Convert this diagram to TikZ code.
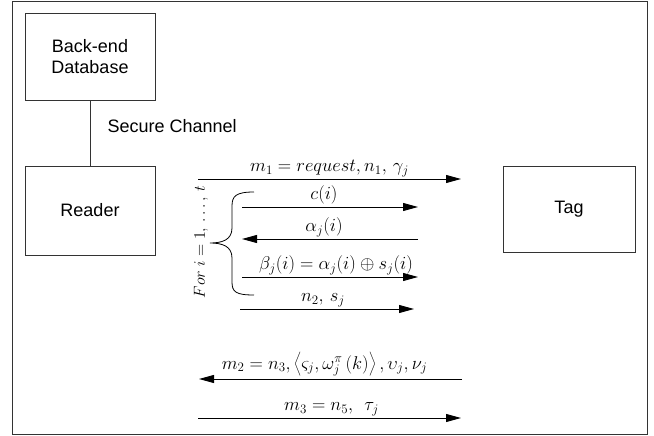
\RequirePackage{fix-cm}
\documentclass[tikz,border=0pt]{standalone}
\usepackage{fontspec}
\setmainfont{Liberation Sans}
\usepackage{tikz}
\usetikzlibrary{positioning,arrows.meta}

\tikzset{
	box/.style={draw=black!80, line width=0.9pt, align=center, font=\fontsize{18}{21}\selectfont},
	msg/.style={line width=0.9pt, -{Triangle[length=15pt,width=8pt]}},
	lbl/.style={font=\fontsize{18.5}{22}\selectfont, inner sep=2pt}
}

\begin{document}
\begin{tikzpicture}[x=1pt,y=-1pt]
\useasboundingbox (0,0) rectangle (654,436);
\draw[line width=0.9pt, black!80] (12,1) rectangle (647,434);

	\node[box, minimum width=130, minimum height=87] (db) at (90,56.5) {Back-end\\Database};
	\node[box, minimum width=130, minimum height=89] (reader) at (90,210.5) {Reader};
	\node[box, minimum width=132, minimum height=86] (tag) at (569,209) {Tag};

	\draw[line width=0.9pt, black!80] (db) -- (reader);
	\node[font=\fontsize{18}{21}\selectfont, anchor=west] (sc) at (104,126) {Secure Channel};

	\coordinate (m1s) at (198,179);  \coordinate (m1e) at (461,179);
	\coordinate (cs) at (242,207);   \coordinate (ce) at (418,207);
	\coordinate (as) at (418,239);   \coordinate (ae) at (242,239);
	\coordinate (bs) at (242,277);   \coordinate (be) at (418,277);
	\coordinate (ns) at (240,309);   \coordinate (ne) at (414,309);
	\coordinate (m2s) at (462,379);  \coordinate (m2e) at (199,379);
	\coordinate (m3s) at (198,418);  \coordinate (m3e) at (461,418);

	\draw[msg] (m1s) -- node[lbl, above] (m1) {$m_1 = request, n_1,\, \gamma_j$} (m1e);
	\draw[msg] (cs) -- node[lbl, above, xshift=-6] (c) {$c(i)$} (ce);
	\draw[msg] (as) -- node[lbl, above, xshift=-6] (a) {$\alpha_j(i)$} (ae);
	\draw[msg] (bs) -- node[lbl, above, xshift=6] (b) {$\beta_j(i) = \alpha_j(i) \oplus s_j(i)$} (be);
	\draw[msg] (ns) -- node[lbl, above, xshift=-4] (n) {$n_2,\, s_j$} (ne);
	\draw[msg] (m2s) -- node[lbl, above, xshift=-6] (m2) {$m_2 = n_3, \left\langle \varsigma_j, \omega_j^{\pi}\left(k\right) \right\rangle, \upsilon_j, \nu_j$} (m2e);
	\draw[msg] (m3s) -- node[lbl, above, xshift=2] (m3) {$m_3 = n_5,\;\, \tau_j$} (m3e);

	% brace
	\draw[line width=0.8pt] (254,192) .. controls (236,192) and (232,196) .. (232,206)
		-- (232,228) .. controls (232,240) and (222,243) .. (210,243)
		.. controls (222,243) and (232,246) .. (232,258)
		-- (232,282) .. controls (232,292) and (236,295) .. (254,295);
	\node[lbl, font=\fontsize{16}{19}\selectfont, rotate=90] (loop) at (201,242) {$For\ i = 1,\,\ldots,\,t$};
\end{tikzpicture}
\end{document}
